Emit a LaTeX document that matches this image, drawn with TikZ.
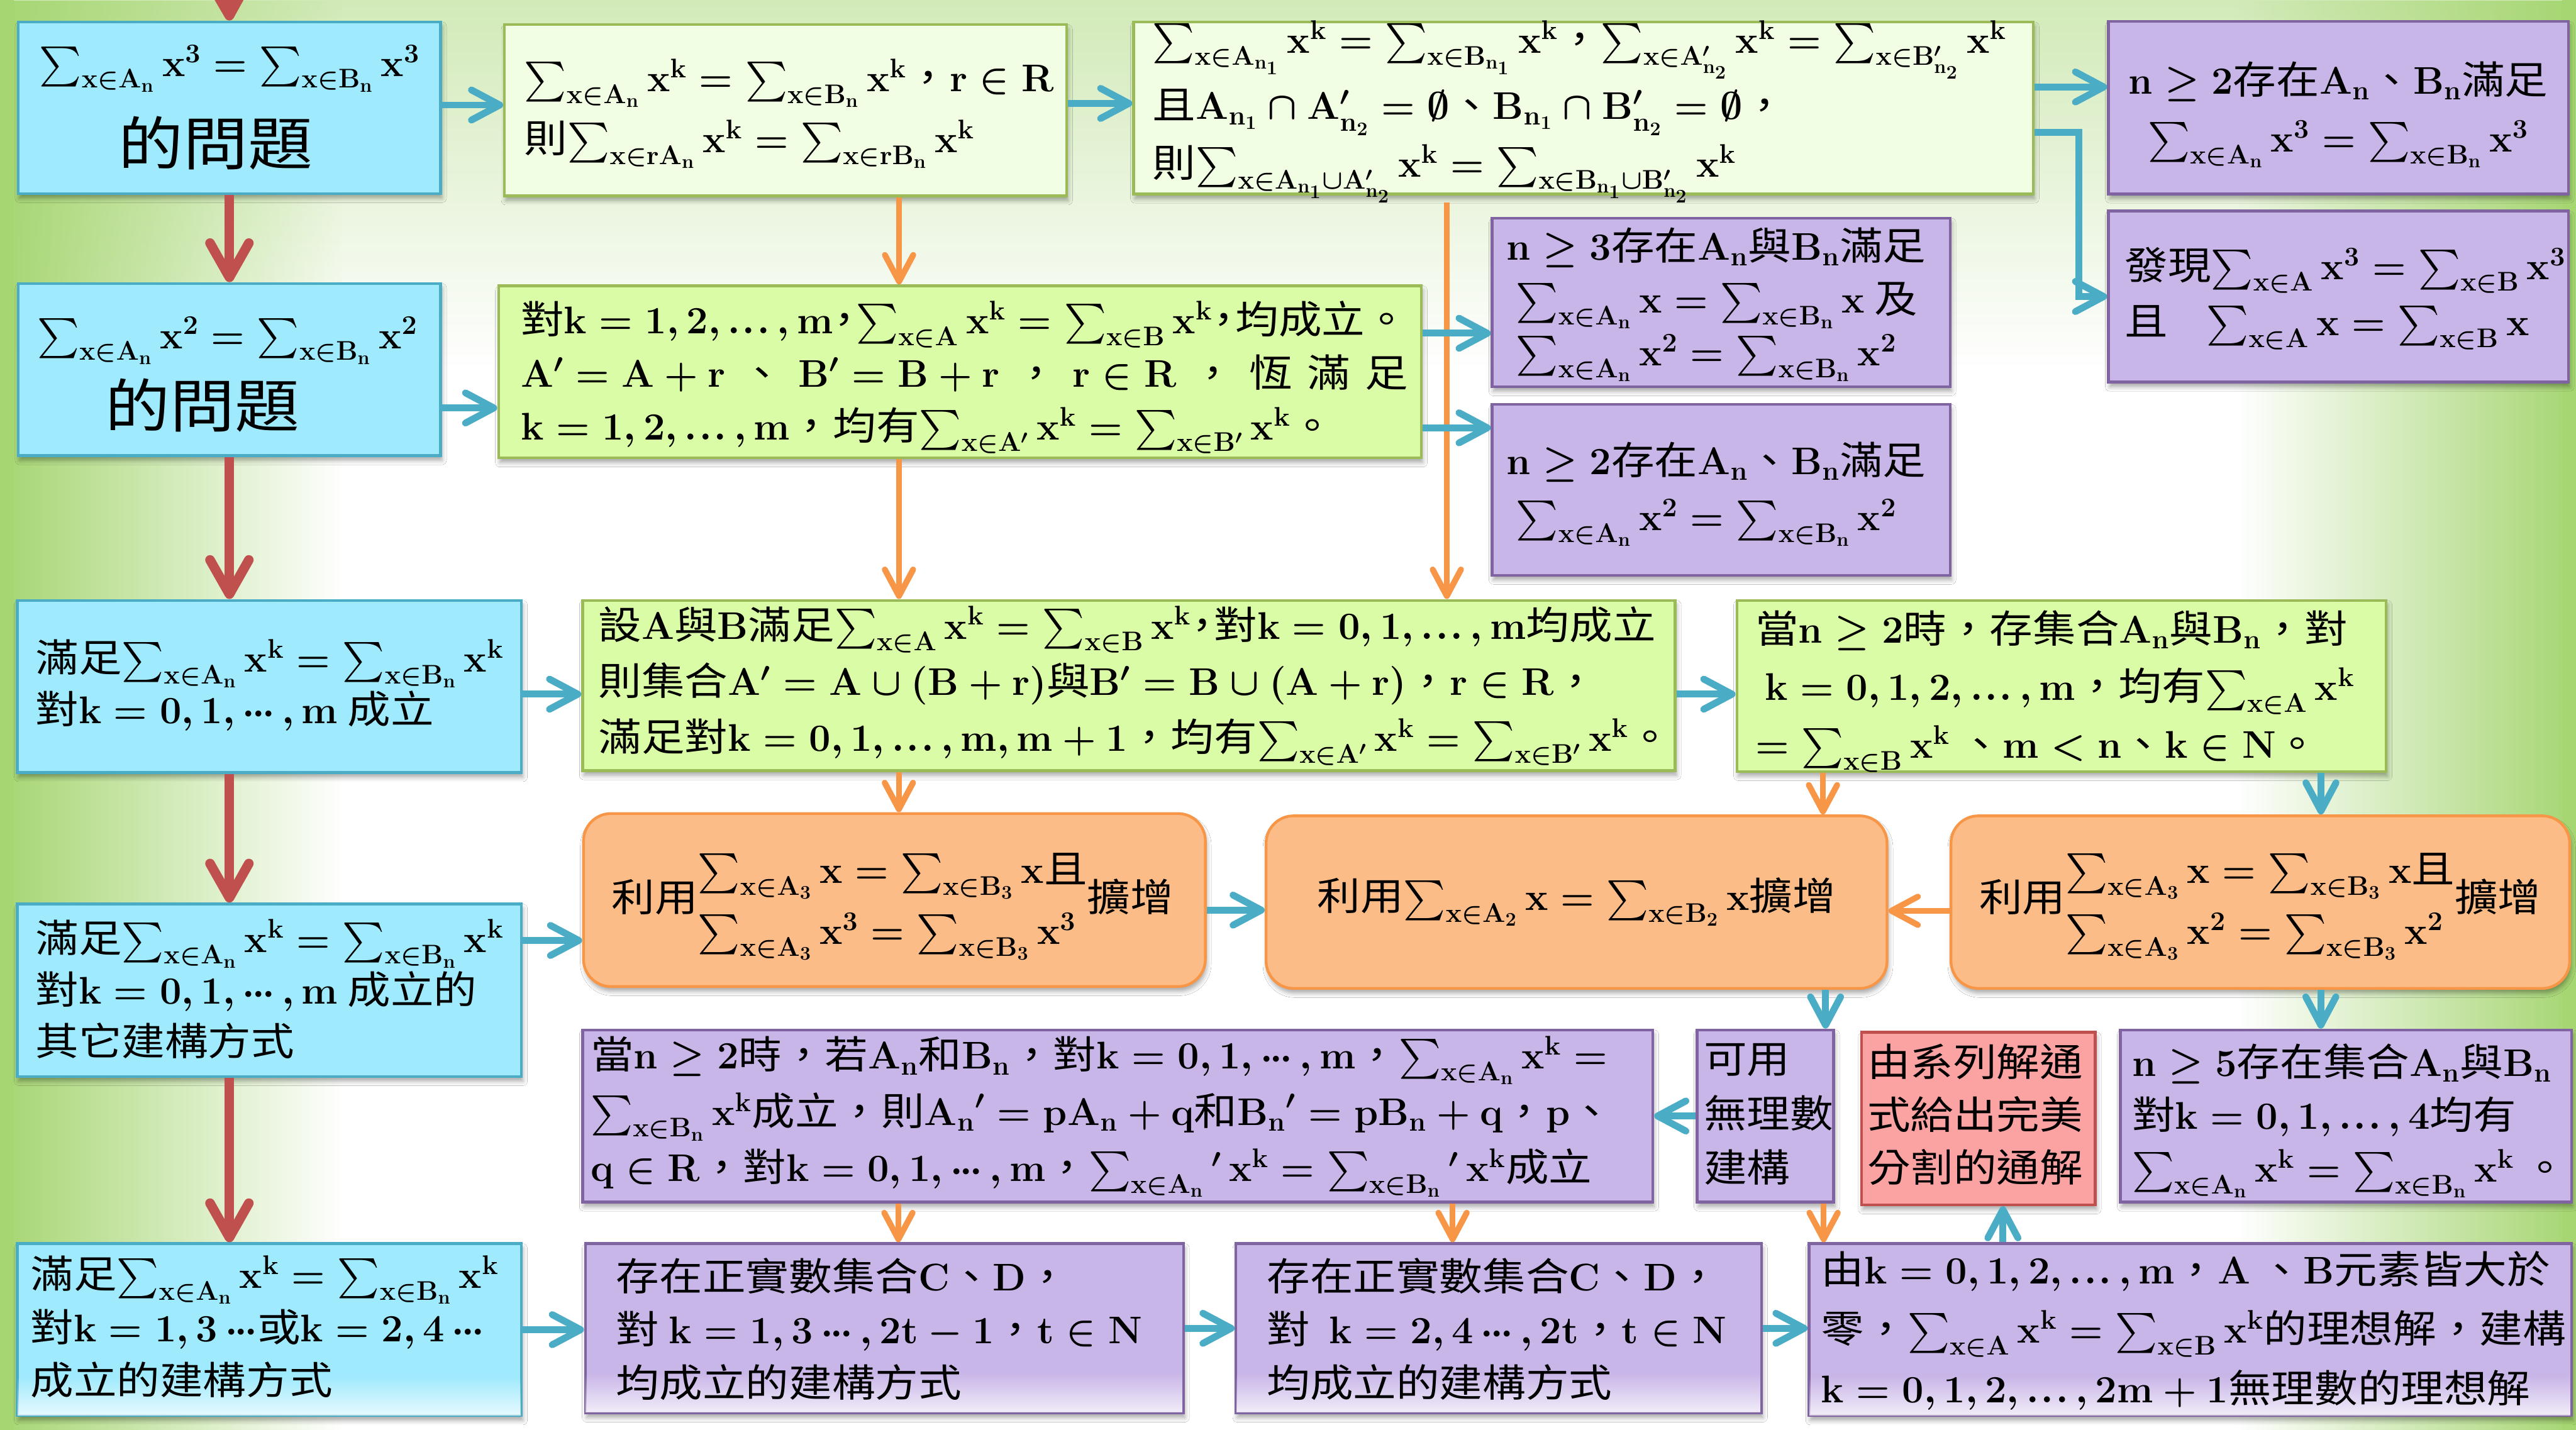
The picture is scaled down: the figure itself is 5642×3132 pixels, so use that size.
\RequirePackage{fix-cm}
\documentclass[tikz,border=0pt]{standalone}
\usepackage{amsmath}
\usepackage{fontspec}
\newfontfamily\cjk[FakeStretch=1.12]{Noto Sans CJK TC}
\usetikzlibrary{arrows.meta,fadings,shadows.blur,fit}
\definecolor{cBlueF}{HTML}{9FEAFD}
\definecolor{cBlueD}{HTML}{4BACC6}
\definecolor{cPaleF}{HTML}{F2FEE3}
\definecolor{cGreenD}{HTML}{9BBB59}
\definecolor{cGreenF}{HTML}{DAFCA6}
\definecolor{cPurF}{HTML}{C9B6E8}
\definecolor{cPurD}{HTML}{8064A2}
\definecolor{cOrF}{HTML}{FBBC87}
\definecolor{cOrD}{HTML}{F79646}
\definecolor{cPinkF}{HTML}{FBA3A3}
\definecolor{cRed}{HTML}{C0504D}
\definecolor{bgSide}{HTML}{A6D672}
\definecolor{bgTop}{HTML}{D2EAB8}
\tikzfading[name=fadeR, left color=transparent!0, right color=transparent!100]
\tikzfading[name=fadeL, left color=transparent!100, right color=transparent!0]
\tikzfading[name=fadeD, top color=transparent!0, bottom color=transparent!100]
\tikzfading[name=fadeU, top color=transparent!100, bottom color=transparent!0]
\newcommand\mB[1]{\mathbf{#1}}
\newcommand\Sx[1]{\sum\nolimits_{\mathbf{x}\in\mathbf{#1}}}
\newcommand\xk{\mathbf{x}^{\mathbf{k}}}
\newcommand\xpw[1]{\mathbf{x}^{\mathbf{#1}}}
\newcommand\el{\mathinner{\mathord{.}\mkern1mu\mathord{.}\mkern1mu\mathord{.}}}
\newcommand\cel{\mathinner{\mathord{\cdot}\mkern-1mu\mathord{\cdot}\mkern-1mu\mathord{\cdot}}}
\newcommand\ncm{\makebox[0.6em][c]{，}}
\newcommand\TxL[2][34]{\fontsize{24}{#1}\selectfont\begin{tabular}{@{}l@{}}#2\end{tabular}}
\newcommand\TxC[2][34]{\fontsize{24}{#1}\selectfont\begin{tabular}{@{}c@{}}#2\end{tabular}}
\begin{document}
\begin{tikzpicture}[x=0.01cm,y=-0.01cm,
  box/.style={line width=0.06cm, inner sep=0pt,
    blur shadow={shadow xshift=0.03cm, shadow yshift=-0.1cm, shadow blur radius=0.1cm, shadow opacity=35}},
  bluebox/.style={box, draw=cBlueD, fill=cBlueF},
  palebox/.style={box, draw=cGreenD, fill=cPaleF},
  greenbox/.style={box, draw=cGreenD, fill=cGreenF},
  purbox/.style={box, draw=cPurD, fill=cPurF},
  orbox/.style={box, draw=cOrD, fill=cOrF, rounded corners=0.6cm},
  pinkbox/.style={box, draw=cRed, fill=cPinkF},
  txt/.style={inner sep=0pt, font=\cjk\fontsize{24}{34}\selectfont\boldmath},
  bigtxt/.style={inner sep=0pt, font=\cjk\fontsize{36}{40}\selectfont},
  barr/.style={draw=cBlueD, line width=0.15cm, -{Straight Barb[length=0.62cm,width=0.66cm,round]}},
  oarr/.style={draw=cOrD, line width=0.13cm, -{Straight Barb[length=0.58cm,width=0.62cm,round]}},
  rarr/.style={draw=cRed, line width=0.21cm, -{Straight Barb[length=0.75cm,width=0.85cm,round]}},
  botfade/.style={white, path fading=fadeU, fill opacity=0.75}]
\useasboundingbox (0,0) rectangle (5642,3132);
% background
\fill[white] (0,0) rectangle (5642,3132);
\fill[bgTop, path fading=fadeD] (0,0) rectangle (5642,800);
\fill[bgSide, path fading=fadeR] (0,0) rectangle (750,3132);
\fill[bgSide] (0,0) rectangle (30,3132);
\fill[bgSide, path fading=fadeL] (4900,0) rectangle (5642,3132);
\fill[bgSide] (5612,0) rectangle (5642,3132);

% boxes
\node[bluebox, fit={(40,48)(965,424)}] (b1) {};
\node[palebox, fit={(1105,54)(2336,429)}] (b2) {};
\node[palebox, fit={(2483,48)(4453,425)}] (b3) {};
\node[purbox, fit={(4618,47)(5625,425)}] (b4) {};
\node[purbox, fit={(4618,462)(5625,837)}] (b5) {};
\node[bluebox, fit={(40,621)(965,998)}] (b6) {};
\node[greenbox, fit={(1092,626)(3113,1003)}] (b7) {};
\node[purbox, fit={(3268,478)(4271,847)}] (b8) {};
\node[purbox, fit={(3268,886)(4271,1260)}] (b9) {};
\node[bluebox, fit={(38,1315)(1142,1692)}] (b10) {};
\node[greenbox, fit={(1276,1315)(3669,1688)}] (b11) {};
\node[greenbox, fit={(3804,1315)(5226,1690)}] (b12) {};
\node[orbox, fit={(1278,1782)(2640,2161)}] (b13) {};
\node[orbox, fit={(2773,1787)(4133,2165)}] (b14) {};
\node[orbox, fit={(4273,1787)(5628,2165)}] (b15) {};
\node[bluebox, fit={(38,1980)(1142,2358)}] (b16) {};
\node[purbox, fit={(1276,2256)(3620,2633)}] (b17) {};
\node[purbox, fit={(3717,2256)(4016,2633)}] (b18) {};
\node[pinkbox, fit={(4077,2261)(4589,2639)}] (b19) {};
\node[purbox, fit={(4644,2256)(5632,2633)}] (b20) {};
\node[bluebox, fit={(38,2724)(1142,3101)}] (b21) {};
\node[purbox, fit={(1282,2724)(2592,3095)}] (b22) {};
\node[purbox, fit={(2707,2724)(3858,3095)}] (b23) {};
\node[purbox, fit={(3962,2724)(5632,3101)}] (b24) {};
\foreach \b in {b21,b22,b23,b24}{
  \fill[botfade] ([shift={(4,-4)}]\b.south west) rectangle ([shift={(-4,-90)}]\b.south east);
}

% orange arrows
\draw[oarr] ([xshift=2.485cm]b2.south) -- ([xshift=2.485cm]b2.south |- b7.north);
\draw[oarr] ([xshift=-1.335cm]b7.south) -- ([xshift=-1.335cm]b7.south |- b11.north);
\draw[oarr] ([xshift=-5.035cm]b11.south) -- ([xshift=-5.035cm]b11.south |- b13.north);
\draw[oarr] ([xshift=-2.99cm,yshift=-0.15cm]b3.south) -- ([xshift=-2.99cm]b3.south |- b11.north);
\draw[oarr] ([xshift=-5.22cm]b12.south) -- ([xshift=-5.22cm]b12.south |- b14.north);
\draw[oarr] ([yshift=-0.19cm]b15.west) -- ([yshift=-0.19cm]b15.west -| b14.east);
\draw[oarr] ([xshift=-4.8cm]b17.south) -- ([xshift=-4.8cm]b17.south |- b22.north);
\draw[oarr] ([xshift=7.33cm]b17.south) -- ([xshift=7.33cm]b17.south |- b23.north);
\draw[oarr] ([xshift=1.275cm]b18.south) -- ([xshift=1.275cm]b18.south |- b24.north);

% red arrows
\coordinate (topin) at (502,0);
\draw[rarr] (topin) -- (b1.north);
\draw[rarr] (b1.south) -- (b6.north);
\draw[rarr] (b6.south) -- (b6.south |- b10.north);
\draw[rarr] (b10.south -| b6.south) -- (b16.north -| b6.south);
\draw[rarr] (b16.south -| b6.south) -- (b21.north -| b6.south);

% blue arrows
\draw[barr] ([yshift=0.06cm]b1.east) -- ([yshift=0.06cm]b1.east -| b2.west);
\draw[barr] ([yshift=0.15cm]b2.east) -- ([yshift=0.15cm]b2.east -| b3.west);
\draw[barr] ([yshift=0.46cm]b3.east) -- ([yshift=0.46cm]b3.east -| b4.west);
\draw[barr] ([yshift=-0.54cm]b3.east) -- ++(97,0) |- (b5.west);
\draw[barr] ([yshift=-0.84cm]b6.east) -- ([yshift=-0.84cm]b6.east -| b7.west);
\draw[barr] ([yshift=0.845cm]b7.east) -- ([yshift=0.845cm]b7.east -| b8.west);
\draw[barr] ([yshift=-1.225cm]b7.east) -- ([yshift=-1.225cm]b7.east -| b9.west);
\draw[barr] ([yshift=-0.17cm]b10.east) -- ([yshift=-0.17cm]b10.east -| b11.west);
\draw[barr] ([yshift=-0.19cm]b11.east) -- ([yshift=-0.19cm]b11.east -| b12.west);
\draw[barr] ([yshift=1.09cm]b16.east) -- ([yshift=1.09cm]b16.east -| b13.west);
\draw[barr] ([yshift=-0.22cm]b13.east) -- ([yshift=-0.22cm]b13.east -| b14.west);
\draw[barr] ([xshift=5.68cm]b12.south) -- ([xshift=5.68cm]b12.south |- b15.north);
\draw[barr] ([xshift=5.45cm]b14.south) -- ([xshift=5.45cm]b14.south |- b18.north);
\draw[barr] ([xshift=1.325cm]b15.south) -- ([xshift=1.325cm]b15.south |- b20.north);
\draw[barr] (b18.west) -- (b18.west -| b17.east);
\draw[barr] (b21.east) -- (b21.east -| b22.west);
\draw[barr] (b22.east) -- (b22.east -| b23.west);
\draw[barr] (b23.east) -- (b23.east -| b24.west);
\draw[barr] ([xshift=-4.1cm]b24.north) -- ([xshift=-4.1cm]b24.north |- b19.south);

% texts
\node[txt] (t1a) at (503,150) {$\Sx{A_n}\xpw{3}=\Sx{B_n}\xpw{3}$};
\node[bigtxt] (t1b) at (472,314) {的問題};
\node[txt, anchor=west] (t2) at (1148,241) {\TxL[38]{$\Sx{A_n}\xk=\Sx{B_n}\xk$，$\mB{r}\in\mB{R}$\\ 則$\Sx{rA_n}\xk=\Sx{rB_n}\xk$}};
\node[txt, anchor=west] (t3) at (2524,236) {\TxL[36]{$\Sx{A_{n_1}}\xk=\Sx{B_{n_1}}\xk$，$\Sx{A'_{n_2}}\xk=\Sx{B'_{n_2}}\xk$\\ 且$\mB{A_{n_1}}\cap\mB{A'_{n_2}}=\emptyset$、$\mB{B_{n_1}}\cap\mB{B'_{n_2}}=\emptyset$，\\ 則$\Sx{A_{n_1}\cup A'_{n_2}}\xk=\Sx{B_{n_1}\cup B'_{n_2}}\xk$}};
\node[txt] (t4) at (5121,244) {\TxC[36]{$\mB{n\geq 2}$存在$\mB{A_n}$、$\mB{B_n}$滿足\\ $\Sx{A_n}\xpw{3}=\Sx{B_n}\xpw{3}$}};
\node[txt, anchor=west] (t5) at (4653,649) {\TxL[35]{發現$\Sx{A}\xpw{3}=\Sx{B}\xpw{3}$\\ 且\quad$\Sx{A}\mB{x}=\Sx{B}\mB{x}$}};
\node[txt] (t6a) at (498,746) {$\Sx{A_n}\xpw{2}=\Sx{B_n}\xpw{2}$};
\node[bigtxt] (t6b) at (444,888) {的問題};
\node[txt, anchor=west] (t7) at (1140,824) {\TxL[33]{對$\mB{k=1,2,}\el\mB{,m}$\ncm$\Sx{A}\xk=\Sx{B}\xk$\ncm 均成立。\\ $\mB{A'=A+r}$\hfill、\hfill$\mB{B'=B+r}$\hfill，\hfill$\mB{r}\in\mB{R}$\hfill，\hfill 恆\hfill 滿\hfill 足\\ $\mB{k=1,2,}\el\mB{,m}$，均有$\Sx{A'}\xk=\Sx{B'}\xk$。}};
\node[txt, anchor=west] (t8) at (3299,662) {\TxL[33]{$\mB{n\geq 3}$存在$\mB{A_n}$與$\mB{B_n}$滿足\\ \ $\Sx{A_n}\mB{x}=\Sx{B_n}\mB{x}$\ 及\\ \ $\Sx{A_n}\xpw{2}=\Sx{B_n}\xpw{2}$}};
\node[txt, anchor=west] (t9) at (3299,1076) {\TxL[35]{$\mB{n\geq 2}$存在$\mB{A_n}$、$\mB{B_n}$滿足\\ \ $\Sx{A_n}\xpw{2}=\Sx{B_n}\xpw{2}$}};
\node[txt, anchor=west] (t10) at (77,1506) {\TxL[32]{滿足$\Sx{A_n}\xk=\Sx{B_n}\xk$\\ 對$\mB{k=0,1,}\cel\mB{,m}$ 成立}};
\node[txt, anchor=west] (t11) at (1310,1498) {\TxL[35]{設$\mB{A}$與$\mB{B}$滿足$\Sx{A}\xk=\Sx{B}\xk$\ncm 對$\mB{k=0,1,}\el\mB{,m}$均成立\\ 則集合$\mB{A'=A\cup(B+r)}$與$\mB{B'=B\cup(A+r)}$，$\mB{r}\in\mB{R}$，\\ 滿足對$\mB{k=0,1,}\el\mB{,m,m+1}$，均有$\Sx{A'}\xk=\Sx{B'}\xk$。}};
\node[txt, anchor=west] (t12) at (3844,1509) {\TxL[36]{當$\mB{n\geq 2}$時，存集合$\mB{A_n}$與$\mB{B_n}$，對\\ \ $\mB{k=0,1,2,}\el\mB{,m}$，均有$\Sx{A}\xk$\\ $=\Sx{B}\xk$\ 、$\mB{m<n}$、$\mB{k}\in\mB{N}$。}};
\node[txt] (t13) at (1955,1975) {利用\TxL[38]{$\Sx{A_3}\mB{x}=\Sx{B_3}\mB{x}$且\\ $\Sx{A_3}\xpw{3}=\Sx{B_3}\xpw{3}$}擴增};
\node[txt] (t14) at (3453,1976) {利用$\Sx{A_2}\mB{x}=\Sx{B_2}\mB{x}$擴增};
\node[txt] (t15) at (4950,1975) {利用\TxL[38]{$\Sx{A_3}\mB{x}=\Sx{B_3}\mB{x}$且\\ $\Sx{A_3}\xpw{2}=\Sx{B_3}\xpw{2}$}擴增};
\node[txt, anchor=west] (t16) at (77,2176) {\TxL[32]{滿足$\Sx{A_n}\xk=\Sx{B_n}\xk$\\ 對$\mB{k=0,1,}\cel\mB{,m}$ 成立的\\ 其它建構方式}};
\node[txt, anchor=west] (t17) at (1293,2440) {\TxL[35]{當$\mB{n\geq 2}$時，若$\mB{A_n}$和$\mB{B_n}$，對$\mB{k=0,1,}\cel\mB{,m}$，$\Sx{A_n}\xk=$\\ $\Sx{B_n}\xk$成立，則$\mB{A_n}'=\mB{pA_n+q}$和$\mB{B_n}'=\mB{pB_n+q}$，$\mB{p}$、\\ $\mB{q}\in\mB{R}$，對$\mB{k=0,1,}\cel\mB{,m}$，$\Sx{A_n}{}'\,\xk=\Sx{B_n}{}'\,\xk$成立}};
\node[txt, anchor=west] (t18) at (3731,2446) {\TxL[34]{可用\\ 無理數\\ 建構}};
\node[txt, anchor=west] (t19) at (4089,2450) {\TxL[33]{由系列解通\\ 式給出完美\\ 分割的通解}};
\node[txt, anchor=west] (t20) at (4669,2450) {\TxL[33]{$\mB{n\geq 5}$存在集合$\mB{A_n}$與$\mB{B_n}$\\ 對$\mB{k=0,1,}\el\mB{,4}$均有\\ $\Sx{A_n}\xk=\Sx{B_n}\xk$\ 。}};
\node[txt, anchor=west] (t21) at (66,2915) {\TxL[33]{滿足$\Sx{A_n}\xk=\Sx{B_n}\xk$\\ 對$\mB{k=1,3}\cel$或$\mB{k=2,4}\cel$\\ 成立的建構方式}};
\node[txt, anchor=west] (t22) at (1349,2920) {\TxL[33]{存在正實數集合$\mB{C}$、$\mB{D}$，\\ 對\ $\mB{k=1,3}\cel\mB{,2t-1}$，$\mB{t}\in\mB{N}$\\ 均成立的建構方式}};
\node[txt, anchor=west] (t23) at (2774,2920) {\TxL[33]{存在正實數集合$\mB{C}$、$\mB{D}$，\\ 對\ \ $\mB{k=2,4}\cel\mB{,2t}$，$\mB{t}\in\mB{N}$\\ 均成立的建構方式}};
\node[txt, anchor=west] (t24) at (3988,2916) {\TxL[37]{由$\mB{k=0,1,2,}\el\mB{,m}$，$\mB{A}$\ 、$\mB{B}$元素皆大於\\ 零，$\Sx{A}\xk=\Sx{B}\xk$的理想解，建構\\ $\mB{k=0,1,2,}\el\mB{,2m+1}$無理數的理想解}};
\end{tikzpicture}
\end{document}
